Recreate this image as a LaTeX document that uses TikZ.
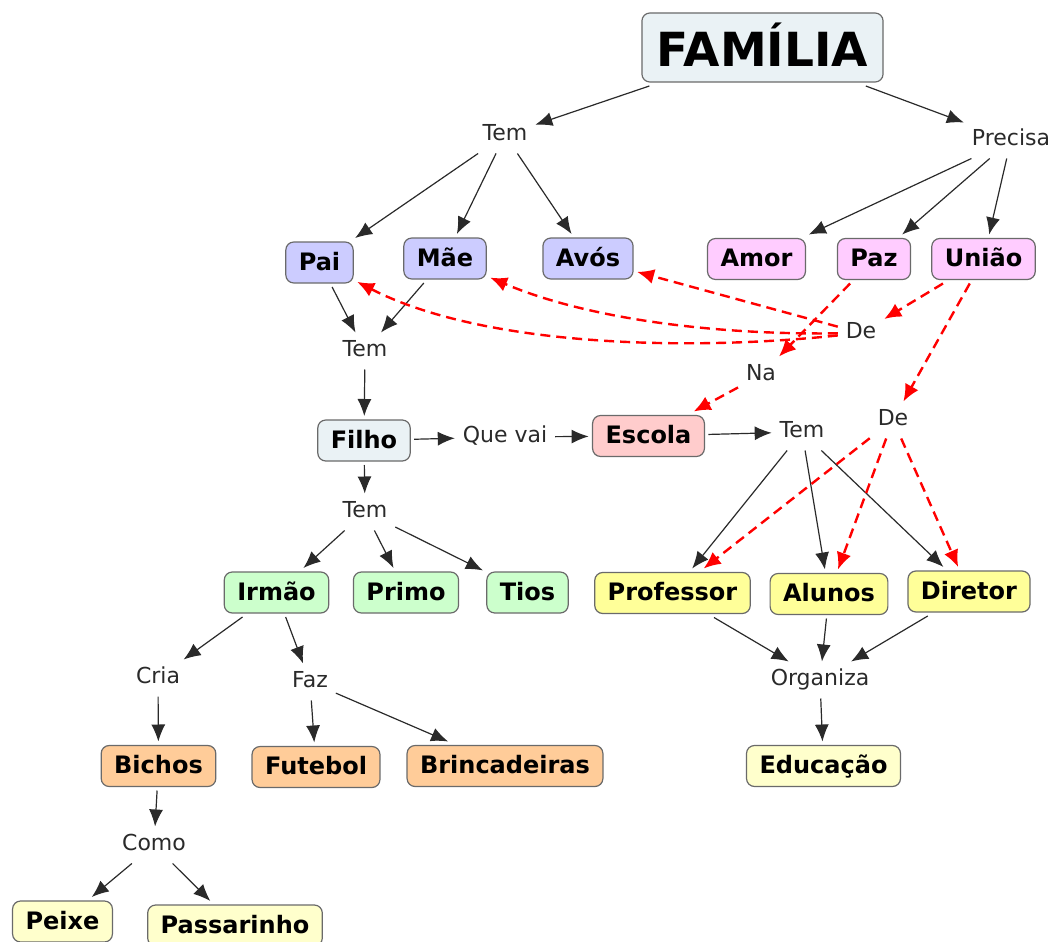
\documentclass[tikz,border=0pt]{standalone}
\usepackage{fontspec}
\setmainfont{DejaVu Sans}
\usetikzlibrary{arrows.meta}
\definecolor{boxline}{HTML}{6A6A6A}
\definecolor{cfam}{HTML}{EAF2F5}
\definecolor{cblue}{HTML}{CCCCFF}
\definecolor{cpink}{HTML}{FFCCFF}
\definecolor{cred}{HTML}{FFCCCC}
\definecolor{cgreen}{HTML}{CCFFCC}
\definecolor{cyel}{HTML}{FFFF99}
\definecolor{cpale}{HTML}{FFFFCC}
\definecolor{corange}{HTML}{FFCC99}
\definecolor{txt}{HTML}{2A2A2A}
\begin{document}
\begin{tikzpicture}[x=1pt,y=-1pt,
  box/.style={draw=boxline, line width=1.2pt, rounded corners=8pt,
    font=\fontsize{24}{28}\selectfont\bfseries, inner xsep=13pt, inner ysep=9pt,
    text height=19pt, text depth=4pt, outer sep=4pt},
  lbl/.style={font=\fontsize{22}{26}\selectfont, text=txt, inner xsep=5pt,
    inner ysep=5pt, text height=16pt, text depth=5pt, outer sep=3pt},
  arr/.style={-{Latex[length=17pt,width=14pt]}, line width=1.2pt, draw=txt},
  rarr/.style={-{Latex[length=17pt,width=15pt]}, line width=2.4pt, draw=red,
    dash pattern=on 10pt off 6pt},
]
\useasboundingbox (0,0) rectangle (1053,942);

% concept boxes
\node[box, fill=cfam, font=\fontsize{47}{52}\selectfont\bfseries, inner xsep=15pt,
  inner ysep=15.5pt, text height=38pt, text depth=0pt] (fam) at (762.5,47.5) {FAMÍLIA};
\node[box, fill=cblue] (pai) at (319.5,262.5) {Pai};
\node[box, fill=cblue] (mae) at (445,258.5) {Mãe};
\node[box, fill=cblue] (avos) at (588,258.5) {Avós};
\node[box, fill=cpink] (amor) at (756.5,259) {Amor};
\node[box, fill=cpink] (paz) at (874,259) {Paz};
\node[box, fill=cpink] (uniao) at (983.5,259) {União};
\node[box, fill=cfam] (filho) at (364,440.5) {Filho};
\node[box, fill=cred] (escola) at (648.5,436) {Escola};
\node[box, fill=cgreen] (irmao) at (276.5,592.5) {Irmão};
\node[box, fill=cgreen] (primo) at (406,592.5) {Primo};
\node[box, fill=cgreen] (tios) at (527.5,592.5) {Tios};
\node[box, fill=cyel] (prof) at (672.5,593) {Professor};
\node[box, fill=cyel] (alunos) at (829,594) {Alunos};
\node[box, fill=cyel] (diretor) at (969,591.5) {Diretor};
\node[box, fill=corange] (bichos) at (158.5,766) {Bichos};
\node[box, fill=corange] (futebol) at (316,767) {Futebol};
\node[box, fill=corange] (brinc) at (505,766) {Brincadeiras};
\node[box, fill=cpale] (edu) at (823.5,766) {Educação};
\node[box, fill=cpale] (peixe) at (62.5,921.5) {Peixe};
\node[box, fill=cpale] (passar) at (235,925.5) {Passarinho};

% linking phrases
\node[lbl] (tem1) at (505,135) {Tem};
\node[lbl] (prec) at (1011,140) {Precisa};
\node[lbl] (tem2) at (365,351) {Tem};
\node[lbl] (de1) at (861,333) {De};
\node[lbl] (na) at (761,375) {Na};
\node[lbl] (quevai) at (505,437) {Que vai};
\node[lbl] (tem3) at (802,432) {Tem};
\node[lbl] (de2) at (893,420) {De};
\node[lbl] (tem4) at (365,512) {Tem};
\node[lbl] (cria) at (158,678) {Cria};
\node[lbl] (faz) at (310,682) {Faz};
\node[lbl] (org) at (820,680) {Organiza};
\node[lbl] (como) at (154,845) {Como};

% black connectors
\draw[arr] (fam) -- (tem1);
\draw[arr] (fam) -- (prec);
\draw[arr] (tem1) -- (pai);
\draw[arr] (tem1) -- (mae);
\draw[arr] (tem1) -- (avos);
\draw[arr] (prec) -- (amor);
\draw[arr] (prec) -- (paz);
\draw[arr] (prec) -- (uniao);
\draw[arr] (pai) -- (tem2);
\draw[arr] (mae) -- (tem2);
\draw[arr] (tem2) -- (filho);
\draw[arr] (filho) -- (quevai);
\draw[arr] (quevai) -- (escola);
\draw[arr] (escola) -- (tem3);
\draw[arr] (tem3) -- (prof);
\draw[arr] (tem3) -- (alunos);
\draw[arr] (tem3) -- (diretor);
\draw[arr] (prof) -- (org);
\draw[arr] (alunos) -- (org);
\draw[arr] (diretor) -- (org);
\draw[arr] (org) -- (edu);
\draw[arr] (filho) -- (tem4);
\draw[arr] (tem4) -- (irmao);
\draw[arr] (tem4) -- (primo);
\draw[arr] (tem4) -- (tios);
\draw[arr] (irmao) -- (cria);
\draw[arr] (irmao) -- (faz);
\draw[arr] (cria) -- (bichos);
\draw[arr] (faz) -- (futebol);
\draw[arr] (faz) -- (brinc);
\draw[arr] (bichos) -- (como);
\draw[arr] (como) -- (peixe);
\draw[arr] (como) -- (passar);

% red dashed connectors
\draw[rarr] (uniao) -- (de1);
\draw[rarr] (de1) .. controls (680,352) and (480,345) .. (pai);
\draw[rarr] (de1) .. controls (720,335) and (590,320) .. (mae);
\draw[rarr] (de1) -- (avos);
\draw[rarr] (paz) -- (na);
\draw[rarr] (na) -- (escola);
\draw[rarr] (uniao) -- (de2);
\draw[rarr] (de2) -- (prof);
\draw[rarr] (de2) -- (alunos);
\draw[rarr] (de2) -- (diretor);
\end{tikzpicture}
\end{document}
